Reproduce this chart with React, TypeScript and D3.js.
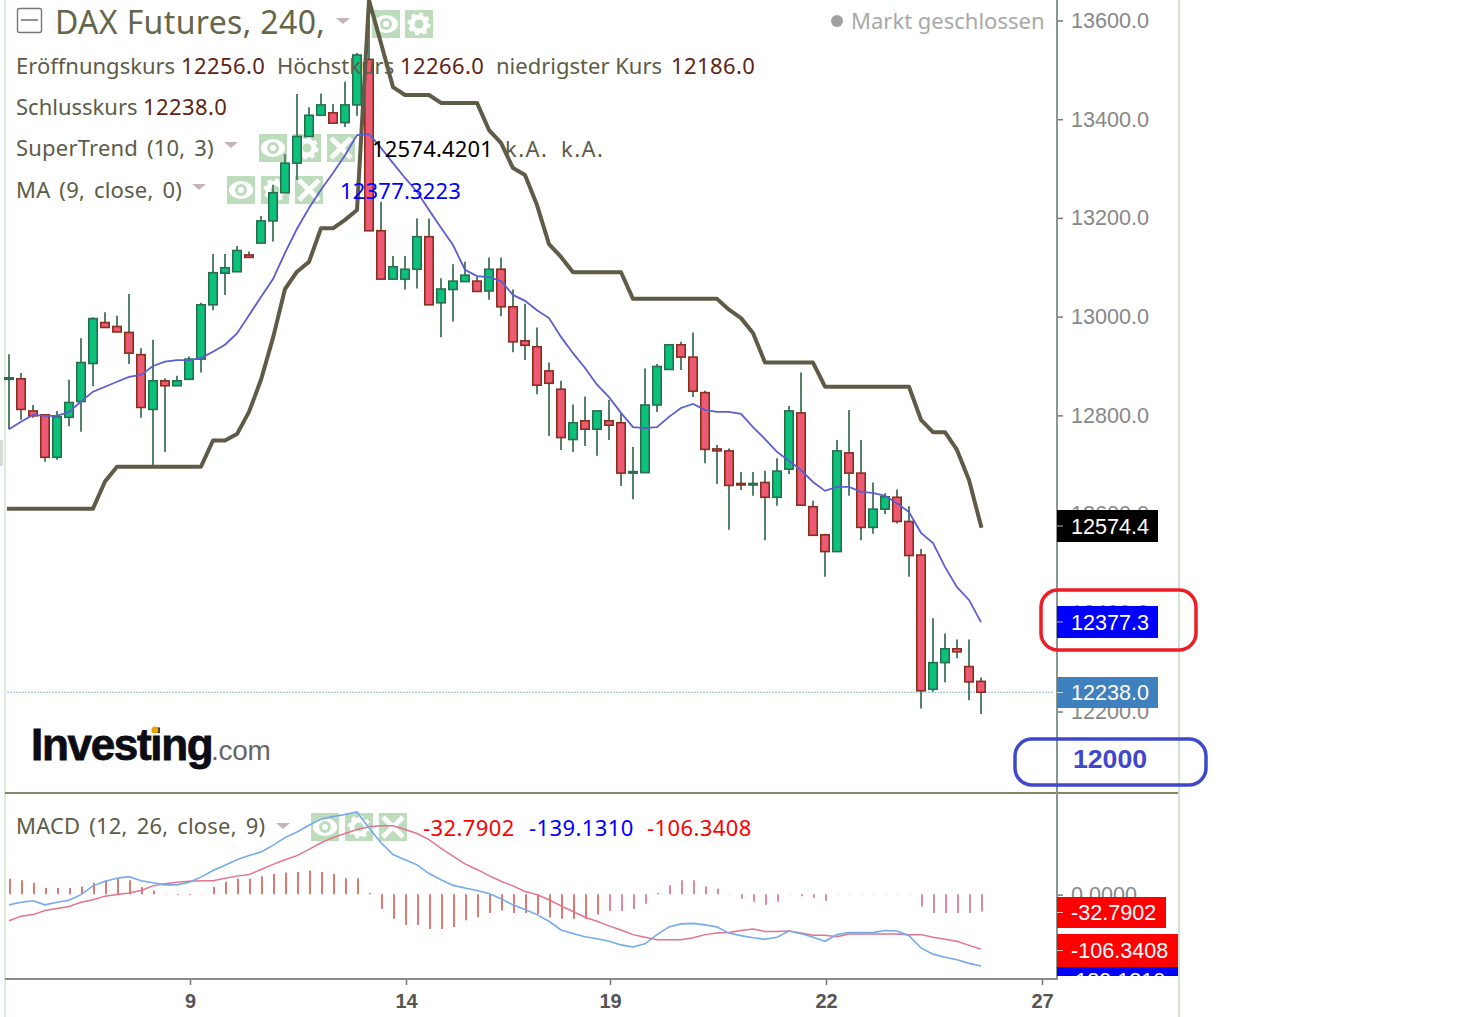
import React, { useEffect, useRef } from "react";
import * as d3 from "d3";

const opens = [12873,12873,12808,12800,12714,12795,12827,12904,12987,12979,12967,12922,12811,12869,12859,12872,12913,13023,13087,13090,13124,13148,13193,13250,13310,13364,13407,13412,13392,13428,13520,13173,13075,13075,13095,13161,13027,13054,13070,13071,13051,13095,13019,12950,12938,12889,12852,12750,12788,12771,12788,12784,12683,12683,12820,12892,12942,12917,12845,12731,12727,12661,12659,12663,12633,12690,12804,12614,12557,12523,12723,12682,12572,12609,12633,12584,12516,12244,12298,12326,12290,12260];
const closes = [12875,12811,12798,12714,12796,12825,12906,12995,12977,12968,12925,12815,12869,12859,12869,12913,13023,13088,13098,13133,13119,13193,13250,13310,13364,13407,13428,13391,13428,13529,13173,13075,13100,13095,13161,13023,13055,13071,13083,13050,13095,13019,12948,12941,12860,12864,12754,12784,12771,12808,12779,12682,12685,12820,12898,12942,12917,12848,12730,12727,12657,12658,12661,12633,12686,12808,12617,12556,12523,12727,12682,12572,12609,12634,12584,12515,12241,12298,12326,12320,12259,12238];
const highs = [12923,12885,12820,12800,12808,12871,12955,12998,13008,13001,13045,12935,12952,12874,12879,12918,13027,13126,13126,13142,13131,13203,13266,13328,13450,13423,13451,13430,13475,13533,13600,13232,13122,13122,13198,13198,13077,13105,13110,13080,13119,13119,13054,13025,12977,12906,12869,12821,12837,12808,12830,12804,12735,12894,12903,12942,12948,12967,12849,12739,12732,12684,12684,12687,12712,12818,12886,12626,12559,12749,12810,12749,12663,12641,12649,12615,12528,12388,12357,12345,12345,12268];
const lows = [12771,12790,12794,12705,12709,12777,12766,12858,12976,12968,12903,12794,12695,12725,12859,12872,12886,13012,13043,13090,13118,13148,13151,13250,13276,13364,13407,13391,13383,13406,13173,13075,13075,13054,13056,13023,12957,12989,13070,13050,13033,13000,12927,12911,12842,12757,12729,12725,12737,12717,12749,12656,12629,12683,12806,12892,12891,12836,12702,12660,12567,12648,12636,12546,12616,12680,12617,12556,12472,12523,12636,12546,12559,12599,12580,12472,12205,12239,12258,12307,12222,12194];
const superTrend = [12610,12610,12610,12610,12610,12610,12610,12610,12665,12695,12695,12695,12695,12695,12695,12695,12695,12748,12748,12761,12806,12871,12956,13055,13090,13110,13178,13178,13195,13215,13640,13553,13464,13448,13448,13448,13432,13432,13432,13432,13377,13351,13300,13286,13225,13146,13120,13089,13089,13089,13089,13089,13035,13035,13035,13035,13035,13035,13035,13035,13013,12996,12966,12906,12906,12906,12906,12906,12857,12857,12857,12857,12857,12857,12857,12857,12790,12765,12765,12729,12668,12575];
const movingAvg = [12771,12786,12800,12798,12798,12806,12827,12847,12857,12867,12877,12881,12899,12908,12911,12911,12915,12928,12942,12965,13002,13039,13075,13128,13177,13219,13256,13290,13326,13367,13369,13341,13310,13280,13252,13215,13179,13144,13094,13081,13079,13071,13043,13031,13012,12996,12958,12925,12895,12861,12836,12804,12775,12773,12775,12796,12814,12822,12810,12806,12806,12802,12775,12751,12725,12707,12688,12664,12646,12654,12654,12644,12642,12636,12621,12603,12561,12540,12492,12451,12425,12380];
const macdLine = [-20,-15,-12,-20,-15,-11,0,17,26,32,35,27,23,19,19,24,34,47,57,68,76,83,96,111,122,135,147,152,156,161,130,101,78,68,58,41,29,18,13,8,2,-8,-20,-29,-39,-52,-69,-76,-82,-86,-91,-98,-102,-96,-78,-63,-57,-56,-59,-63,-75,-80,-84,-87,-83,-71,-76,-83,-91,-78,-74,-74,-74,-70,-71,-80,-104,-116,-122,-127,-134,-139];
const signalLine = [-51,-42,-39,-31,-27,-23,-15,-10,-3,0,3,8,17,21,24,26,27,27,32,36,39,49,59,68,76,88,101,111,119,127,132,134,134,127,119,107,90,75,60,49,37,26,17,6,0,-10,-22,-33,-44,-52,-61,-69,-78,-83,-88,-88,-88,-84,-78,-75,-74,-70,-67,-72,-72,-71,-75,-79,-79,-82,-77,-77,-77,-77,-77,-78,-78,-83,-87,-91,-99,-106];
const histogram = [31,28,23,13,13,13,16,23,27,31,28,15,8,0,-1,-1,1,15,25,31,31,36,40,43,44,47,44,40,32,32,3,-28,-47,-59,-59,-67,-67,-63,-50,-44,-36,-31,-36,-36,-38,-44,-47,-47,-47,-39,-32,-32,-28,-18,3,18,28,28,16,12,0,-8,-14,-20,-14,0,-3,-6,-12,0,1,1,1,1,1,0,-23,-36,-36,-36,-36,-33];

const priceTicks = [13600,13400,13200,13000,12800,12600,12400,12200];
const dayTicks = [15,33,50,68,86];
const dayLabels = ["9","14","19","22","27"];

const GREEN = "#0cc27a";
const RED = "#ee5a72";
const UI_FONT = "'Noto Sans', sans-serif";
const AXIS_FONT = "'Liberation Sans', Arial, sans-serif";
const LABEL = "#5c5c48";
const VALUE = "#5e2413";
const ROW = 22;

const App = () => {
  const svgRef = useRef(null);

  useEffect(() => {
    const svg = d3.select(svgRef.current);
    svg.selectAll("*").remove();

    const xScale = d3.scaleLinear().domain([0, 81]).range([9, 981]);
    const yScale = d3.scaleLinear().domain([12200, 13600]).range([711, 20]);
    const macdScale = d3.scaleLinear().domain([0, -139.13]).range([894.6, 966]);

    // Frame
    const frameLine = (x1, y1, x2, y2, color, w) =>
      svg.append("line").attr("x1", x1).attr("y1", y1).attr("x2", x2).attr("y2", y2).attr("stroke", color).attr("stroke-width", w);
    frameLine(5, 0, 5, 1017, "#d4e4cc", 1.5);
    frameLine(1179, 0, 1179, 1017, "#c6d8c8", 1.5);
    svg.append("rect").attr("x", 0).attr("y", 440).attr("width", 3).attr("height", 26).attr("fill", "#d8d8d8");

    // Hide/settings buttons sit behind the candles
    const button = (x, y, kind) => {
      const g = svg.append("g").attr("transform", `translate(${x},${y})`);
      g.append("rect").attr("width", 28).attr("height", 28).attr("fill", "#bcdcbc");
      if (kind === "eye") {
        g.append("ellipse").attr("cx", 14).attr("cy", 14).attr("rx", 12).attr("ry", 9).attr("fill", "#fff");
        g.append("circle").attr("cx", 14).attr("cy", 14).attr("r", 6).attr("fill", "#bcdcbc");
        g.append("circle").attr("cx", 14).attr("cy", 14).attr("r", 3).attr("fill", "#fff");
      } else if (kind === "gear") {
        g.append("circle").attr("cx", 14).attr("cy", 14).attr("r", 7).attr("fill", "none").attr("stroke", "#fff").attr("stroke-width", 5);
        g.append("circle").attr("cx", 14).attr("cy", 14).attr("r", 10).attr("fill", "none").attr("stroke", "#fff").attr("stroke-width", 3).attr("stroke-dasharray", "4 3.8");
      } else {
        g.append("path").attr("d", "M4 4L24 24M24 4L4 24").attr("stroke", "#fff").attr("stroke-width", 5);
      }
    };
    const triangle = (x, y) =>
      svg.append("path").attr("d", `M${x} ${y}h14l-7 6z`).attr("fill", "#c4b4b4");

    [[372, 10, "eye"], [405, 10, "gear"],
     [259, 134, "eye"], [293, 134, "gear"], [327, 134, "x"],
     [227, 176, "eye"], [261, 176, "gear"], [295, 176, "x"],
     [311, 813, "eye"], [345, 813, "gear"], [379, 813, "x"]].forEach(([x, y, k]) => button(x, y, k));
    triangle(336, 18);
    triangle(224, 142);
    triangle(192, 184);
    triangle(276, 823);

    // Last price line
    svg.append("line")
      .attr("x1", 7).attr("x2", 1053)
      .attr("y1", yScale(12238)).attr("y2", yScale(12238))
      .attr("stroke", "#8db6e6").attr("stroke-width", 1).attr("stroke-dasharray", "2 1");

    // Candles
    const indices = d3.range(opens.length);
    const candles = svg.append("g").selectAll("g").data(indices).join("g");
    candles.append("line")
      .attr("x1", (i) => xScale(i)).attr("x2", (i) => xScale(i))
      .attr("y1", (i) => yScale(highs[i])).attr("y2", (i) => yScale(lows[i]))
      .attr("stroke", "#55806c").attr("stroke-width", 2);
    candles.append("rect")
      .attr("x", (i) => xScale(i) - 4.2)
      .attr("width", 8.4)
      .attr("y", (i) => yScale(Math.max(opens[i], closes[i])))
      .attr("height", (i) => Math.max(1.5, Math.abs(yScale(opens[i]) - yScale(closes[i]))))
      .attr("fill", (i) => (closes[i] >= opens[i] ? GREEN : RED))
      .attr("stroke", (i) => (closes[i] >= opens[i] ? "#2a6e50" : "#87301f"))
      .attr("stroke-width", 1.6);

    // Overlays
    const priceLine = d3.line().x((d, i) => xScale(i)).y((d) => yScale(d));
    svg.append("path").datum(superTrend)
      .attr("fill", "none").attr("stroke", "#5f5b47").attr("stroke-width", 4)
      .attr("stroke-linejoin", "round").attr("stroke-linecap", "square").attr("d", priceLine);
    svg.append("path").datum(movingAvg)
      .attr("fill", "none").attr("stroke", "#5d5dd2").attr("stroke-width", 1.8).attr("d", priceLine);

    // MACD pane
    svg.append("g").selectAll("line").data(indices).join("line")
      .attr("x1", (i) => xScale(i) + 1).attr("x2", (i) => xScale(i) + 1)
      .attr("y1", macdScale(0) - 0.3)
      .attr("y2", (i) => macdScale(histogram[i]))
      .attr("stroke", (i) => (i < 50 ? "#d2584f" : "#d96a86")).attr("stroke-width", 1.6);
    const macdPath = d3.line().x((d, i) => xScale(i)).y((d) => macdScale(d));
    svg.append("path").datum(signalLine)
      .attr("fill", "none").attr("stroke", "#e4738c").attr("stroke-width", 1.5).attr("d", macdPath);
    svg.append("path").datum(macdLine)
      .attr("fill", "none").attr("stroke", "#74a9ec").attr("stroke-width", 1.6).attr("d", macdPath);

    // Axes
    const styleAxis = (g) => {
      g.select(".domain").remove();
      g.selectAll(".tick line").attr("stroke", "#777").attr("stroke-width", 1.5);
    };
    svg.append("g")
      .attr("transform", "translate(1057,0.5)")
      .call(d3.axisRight(yScale).tickValues(priceTicks).tickSize(6).tickPadding(8).tickFormat(d3.format(".1f")))
      .call(styleAxis)
      .call((g) => g.selectAll(".tick text").attr("font-family", AXIS_FONT).attr("font-size", 21.6).attr("fill", "#888"));
    svg.append("g")
      .attr("transform", "translate(1057,0)")
      .call(d3.axisRight(macdScale).tickValues([0]).tickSize(6).tickPadding(8).tickFormat(d3.format(".4f")))
      .call(styleAxis)
      .call((g) => g.selectAll(".tick text").attr("font-family", AXIS_FONT).attr("font-size", 21.6).attr("fill", "#888"));
    svg.append("g")
      .attr("transform", "translate(1,979)")
      .call(d3.axisBottom(xScale).tickValues(dayTicks).tickSize(6).tickPadding(9).tickFormat((d, i) => dayLabels[i]))
      .call(styleAxis)
      .call((g) => g.selectAll(".tick text").attr("font-family", AXIS_FONT).attr("font-size", 20).attr("font-weight", "bold").attr("fill", "#555"));

    frameLine(5, 793, 1178, 793, "#5f5d36", 1.6);
    frameLine(5, 979, 1058, 979, "#8c8c8c", 2);
    frameLine(1057, 0, 1057, 979, "#8a9890", 2);

    // Value badges on the right axis
    const badge = (y, h, w, color, label) => {
      svg.append("rect").attr("x", 1057).attr("y", y).attr("width", w).attr("height", h).attr("fill", color);
      svg.append("line").attr("x1", 1057).attr("x2", 1063).attr("y1", y + h / 2).attr("y2", y + h / 2).attr("stroke", "#fff").attr("stroke-opacity", 0.7);
      svg.append("text").attr("x", 1071).attr("y", y + h / 2 + 7.5)
        .attr("font-family", AXIS_FONT).attr("font-size", 21.6).attr("fill", "#fff").text(label);
    };
    badge(510, 32, 101, "#000", "12574.4");
    badge(606, 32, 101, "#0000ff", "12377.3");
    badge(677, 31, 101, "#3f80bf", "12238.0");
    badge(897, 31, 109, "#ff0000", "-32.7902");

    const clip = svg.append("clipPath").attr("id", "macd-badge");
    clip.append("rect").attr("x", 1057).attr("y", 966).attr("width", 121).attr("height", 10);
    svg.append("g").attr("clip-path", "url(#macd-badge)").call((g) => {
      g.append("rect").attr("x", 1057).attr("y", 966).attr("width", 121).attr("height", 10).attr("fill", "#0000ff");
      g.append("text").attr("x", 1068).attr("y", 988).attr("font-family", AXIS_FONT).attr("font-size", 21.6).attr("fill", "#fff").text("-139.1310");
    });
    badge(934, 33, 121, "#ff0000", "-106.3408");

    // Hand drawn marks
    svg.append("rect").attr("x", 1041).attr("y", 590).attr("width", 155).attr("height", 60).attr("rx", 17)
      .attr("fill", "none").attr("stroke", "#ee1c25").attr("stroke-width", 3.5);
    svg.append("rect").attr("x", 1015).attr("y", 739).attr("width", 191).attr("height", 46).attr("rx", 17)
      .attr("fill", "none").attr("stroke", "#3f48cc").attr("stroke-width", 3.5);
    svg.append("text").attr("x", 1110).attr("y", 768).attr("text-anchor", "middle")
      .attr("font-family", AXIS_FONT).attr("font-weight", "bold").attr("font-size", 26.6).attr("fill", "#3f48cc").text("12000");

    // Legend text
    const text = (x, y, size, color, value) =>
      svg.append("text").attr("x", x).attr("y", y).attr("font-family", UI_FONT).attr("font-size", size).attr("fill", color).text(value);
    const number = (x, y, color, value, spacing = 0.4) => text(x, y, ROW, color, value).attr("letter-spacing", spacing);
    const study = (y, value) => text(16, y, ROW, LABEL, value).attr("letter-spacing", 0.2).attr("word-spacing", 3);

    svg.append("rect").attr("x", 17.5).attr("y", 8.5).attr("width", 24).attr("height", 24).attr("rx", 2).attr("fill", "#fff").attr("stroke", "#777").attr("stroke-width", 1.4);
    svg.append("line").attr("x1", 21).attr("x2", 38).attr("y1", 20).attr("y2", 20).attr("stroke", "#777").attr("stroke-width", 1.6);
    text(55, 34, 32, "#66664a", "DAX Futures, 240,").attr("letter-spacing", 0.35);
    svg.append("circle").attr("cx", 837).attr("cy", 21).attr("r", 6).attr("fill", "#a0a0a0");
    text(851, 29, ROW, "#a8a8a8", "Markt geschlossen");

    text(16, 74, ROW, LABEL, "Eröffnungskurs");
    number(181, 74, VALUE, "12256.0");
    text(277, 74, ROW, LABEL, "Höchstkurs");
    number(400, 74, VALUE, "12266.0");
    text(496, 74, ROW, LABEL, "niedrigster Kurs");
    number(671, 74, VALUE, "12186.0");
    text(16, 115, ROW, LABEL, "Schlusskurs");
    number(143, 115, VALUE, "12238.0");
    study(156, "SuperTrend (10, 3)");
    number(372, 157, "#000", "12574.4201", 0.2);
    text(505, 157, ROW, LABEL, "k.A.").attr("letter-spacing", 1.4);
    text(561, 157, ROW, LABEL, "k.A.").attr("letter-spacing", 1.4);
    study(198, "MA (9, close, 0)");
    number(340, 199, "#0000ff", "12377.3223", 0.2);
    study(834, "MACD (12, 26, close, 9)");
    number(423, 836, "#ff0000", "-32.7902");
    number(529, 836, "#0000ff", "-139.1310");
    number(647, 836, "#ff0000", "-106.3408");

    // Investing.com logo
    svg.append("text").attr("x", 31).attr("y", 760)
      .attr("font-family", AXIS_FONT).attr("font-weight", "bold").attr("font-size", 44)
      .attr("letter-spacing", -1.3).attr("fill", "#0c0c14").attr("stroke", "#0c0c14").attr("stroke-width", 0.8).text("Investing");
    svg.append("text").attr("x", 211).attr("y", 760)
      .attr("font-family", AXIS_FONT).attr("font-size", 28).attr("letter-spacing", -0.3).attr("fill", "#666").text(".com");
    svg.append("circle").attr("cx", 155).attr("cy", 730).attr("r", 3.6).attr("fill", "#e8a50c");
  }, []);

  return (
    <svg
      ref={svgRef}
      width={1458}
      height={1017}
      style={{ position: "fixed", left: 0, top: 0, background: "#fff" }}
    />
  );
};

export default App;
